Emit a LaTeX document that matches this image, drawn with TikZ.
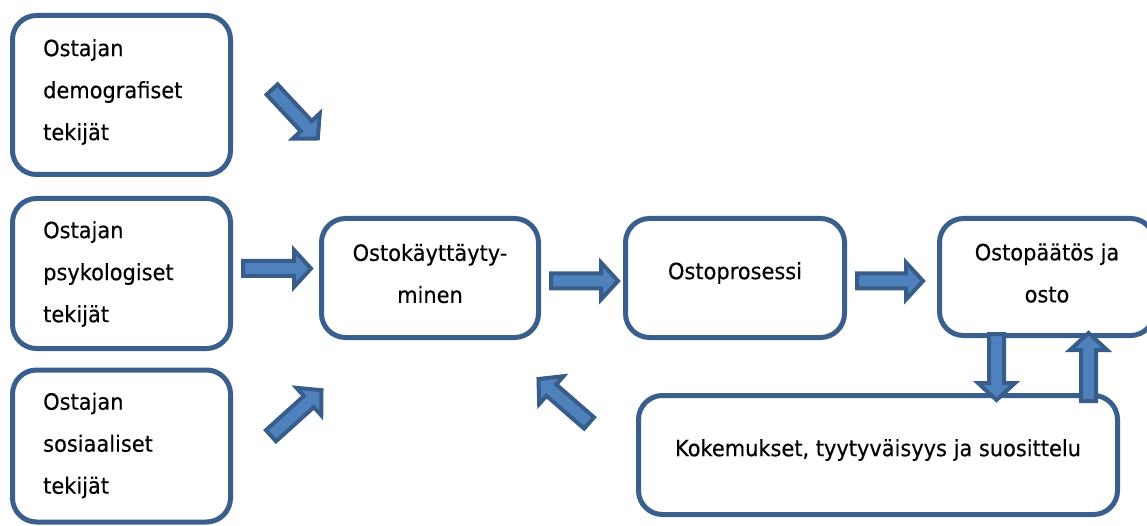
\documentclass[tikz,border=0pt]{standalone}
\usepackage{fontspec}
\setmainfont{DejaVu Sans}[FakeBold=0.3,FakeStretch=0.93]
\definecolor{boxline}{HTML}{3A5F8D}
\definecolor{arrfill}{HTML}{4F81BD}
\definecolor{arrline}{HTML}{385D8A}
\tikzset{
  rbox/.style={draw=boxline, line width=5pt, rounded corners=24pt, fill=white, inner sep=0pt},
  lbl/.style={font=\fontsize{22.5}{42}\selectfont, text=black, inner sep=0pt},
  arrowsty/.style={draw=arrline, fill=arrfill, line width=4pt, line join=miter}
}
% name, tip x, tip y, angle (canvas), length
\newcommand\blockarr[5]{%
  \begin{scope}[shift={(#2,#3)},rotate=#4]
    \coordinate (#1) at (0,0);
    \draw[arrowsty] (0,0) -- (-17,18.5) -- (-17,7.5) -- (-#5,7.5) -- (-#5,-7.5) -- (-17,-7.5) -- (-17,-18.5) -- cycle;
  \end{scope}}
\begin{document}
\begin{tikzpicture}[x=1pt,y=-1pt]
\useasboundingbox (0,0) rectangle (1147,526);
% left boxes
\node[rbox, minimum width=218pt, minimum height=159pt] (b1) at (121.5,95) {};
\node[lbl, align=left, anchor=west] (t1) at (43,92) {Ostajan\\demografiset\\tekijät};
\node[rbox, minimum width=218pt, minimum height=150pt] (b2) at (121.5,273.5) {};
\node[lbl, align=left, anchor=west] (t2) at (43,274) {Ostajan\\psykologiset\\tekijät};
\node[rbox, minimum width=218pt, minimum height=152pt] (b3) at (121.5,446) {};
\node[lbl, align=left, anchor=west] (t3) at (43,445.5) {Ostajan\\sosiaaliset\\tekijät};
% middle row
\node[rbox, minimum width=217pt, minimum height=119pt] (b4) at (430,278) {};
\node[lbl, align=center] (t4) at (430,273.5) {Ostokäyttäyty-\\minen};
\node[rbox, minimum width=219pt, minimum height=119pt] (b5) at (735,278) {};
\node[lbl] (t5) at (735,273) {Ostoprosessi};
\node[rbox, minimum width=215pt, minimum height=117pt] (b6) at (1047,277) {};
\node[lbl, align=center] (t6) at (1047,273) {Ostopäätös ja\\osto};
\node[rbox, minimum width=479pt, minimum height=119pt] (b7) at (878,455) {};
\node[lbl] (t7) at (878,450) {Kokemukset, tyytyväisyys ja suosittelu};
% block arrows
\blockarr{a1}{317.8}{138.5}{-47}{67}
\blockarr{a2}{311}{268.5}{0}{68}
\blockarr{a3}{321.5}{390.2}{42}{68}
\blockarr{a4}{618}{281}{0}{67}
\blockarr{a5}{923}{281}{0}{66}
\blockarr{a6}{996.5}{400}{-90}{66}
\blockarr{a7}{1088.5}{333}{90}{68}
\blockarr{a8}{538.5}{379}{139}{67}
\end{tikzpicture}
\end{document}
